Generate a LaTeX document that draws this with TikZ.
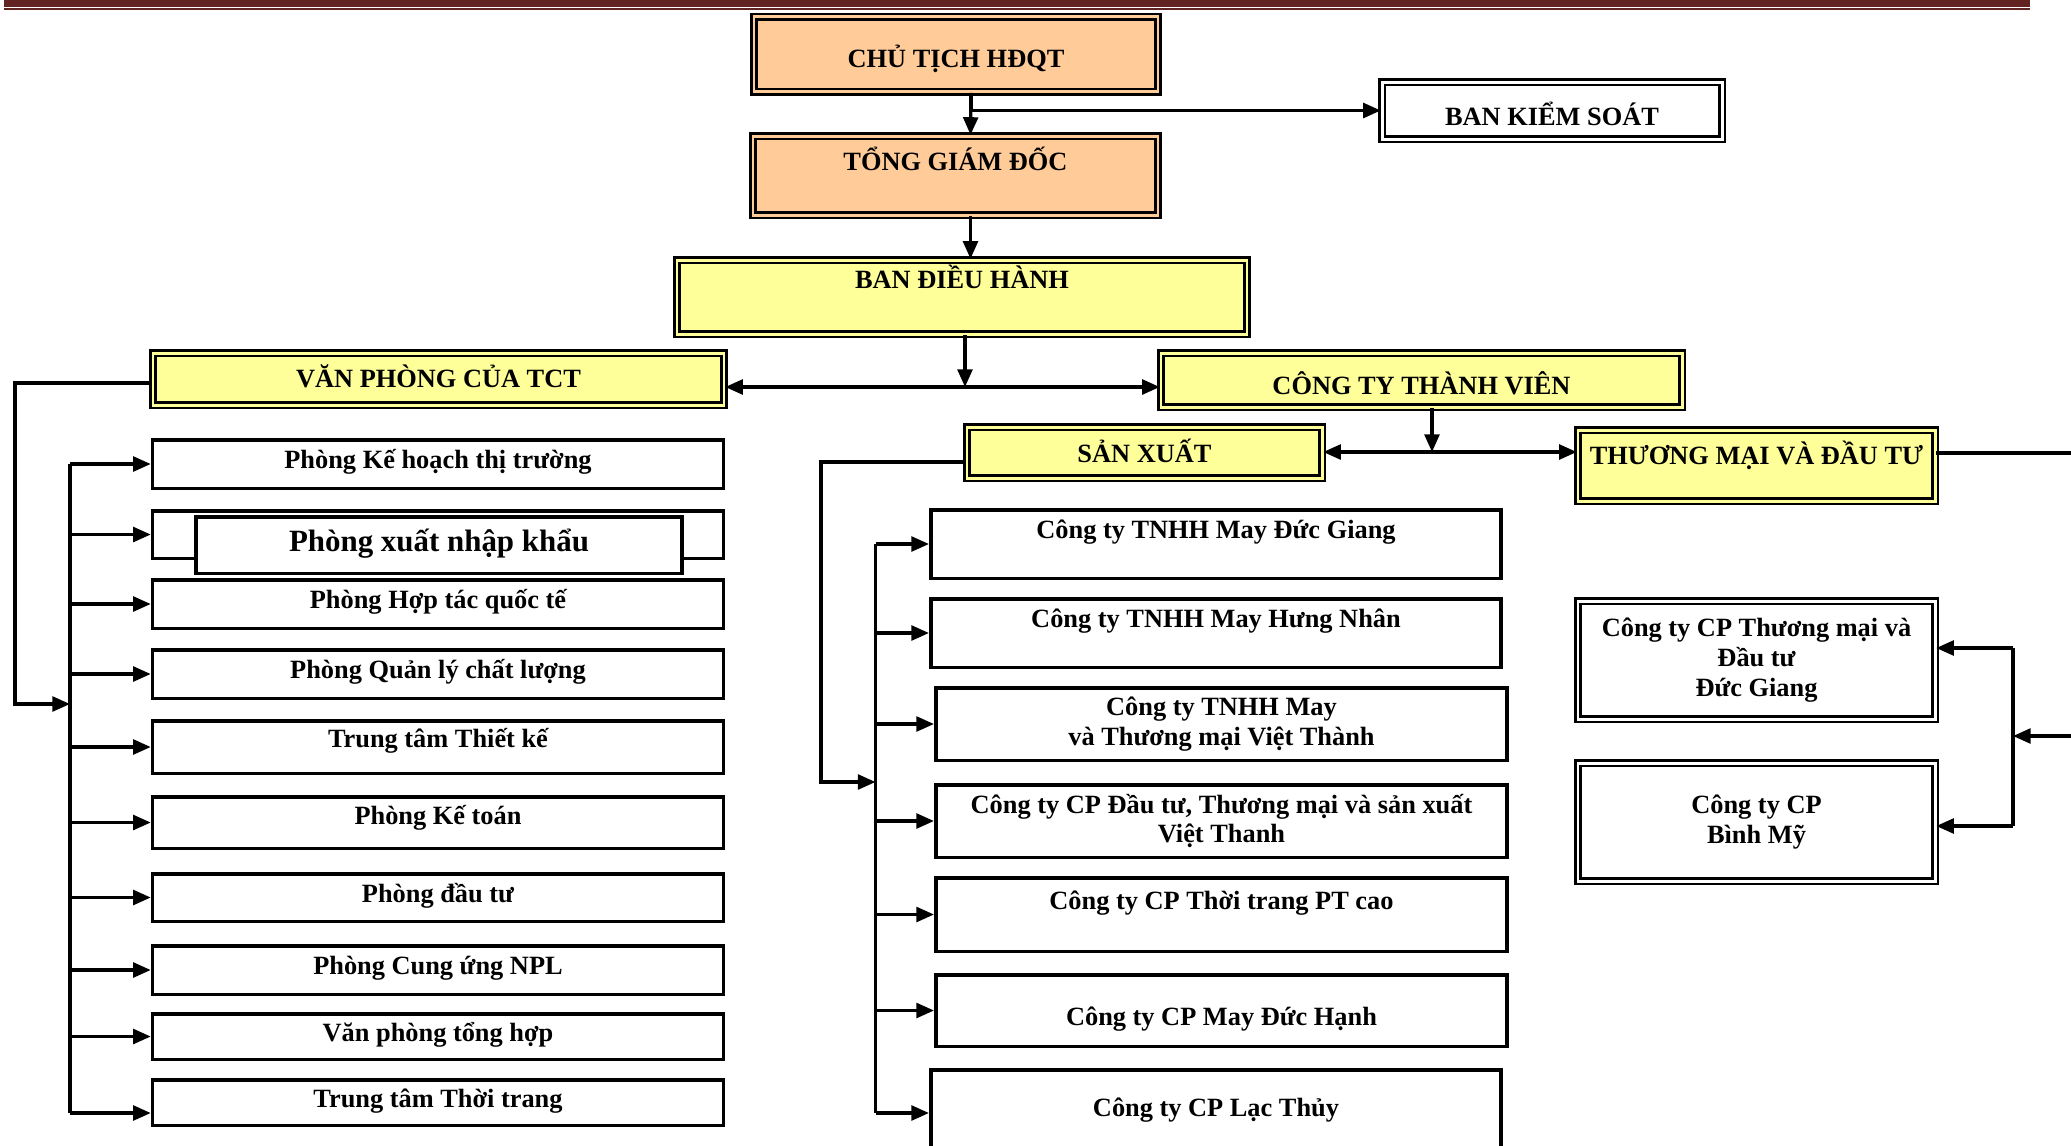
\documentclass[tikz,border=0pt]{standalone}
\usepackage{fontspec}
\setmainfont{Liberation Serif}
\usetikzlibrary{arrows.meta}

\definecolor{peach}{HTML}{FFCC99}
\definecolor{lemon}{HTML}{FFFF99}
\definecolor{topbar}{HTML}{622423}

\tikzset{
  wire/.style={line width=0.9pt},
  arr/.style={wire, -{Triangle[length=5pt,width=4.2pt]}},
  arrs/.style={wire, {Triangle[length=5pt,width=4.2pt]}-{Triangle[length=5pt,width=4.2pt]}},
  unitbox/.style={draw, line width=1pt, fill=white, align=center, inner sep=1pt,
    font=\bfseries\fontsize{7.5pt}{8.5pt}\selectfont},
  headbox/.style={unitbox, line width=0.7pt, double=#1, double distance=0.85pt, fill=#1},
  oneline/.style={text height=5.6pt, text depth=1.9pt},
}

\begin{document}
\begin{tikzpicture}
  \useasboundingbox (0,0) rectangle (20.71,-11.45);

  % top rule
  \fill[topbar] (0.045,0) rectangle (20.30,-0.067);
  \fill[topbar] (0.045,-0.08) rectangle (20.30,-0.10);

  % Board and management
  \node[headbox=peach, oneline, text height=9.3pt, minimum width=4.04cm, minimum height=0.75cm] (ct) at (9.56,-0.542) {CHỦ TỊCH HĐQT};
  \node[headbox=white, oneline, text height=10.7pt, minimum width=3.40cm, minimum height=0.57cm] (bks) at (15.52,-1.105) {BAN KIỂM SOÁT};
  \node[headbox=peach, oneline, text depth=8.7pt, minimum width=4.05cm, minimum height=0.79cm] (tgd) at (9.555,-1.755) {TỔNG GIÁM ĐỐC};
  \node[headbox=lemon, oneline, text depth=10.4pt, minimum width=5.70cm, minimum height=0.74cm] (bdh) at (9.62,-2.97) {BAN ĐIỀU HÀNH};

  % Office and member companies
  \node[headbox=lemon, oneline, text height=6.7pt, minimum width=5.71cm, minimum height=0.52cm] (vp) at (4.385,-3.79) {VĂN PHÒNG CỦA TCT};
  \node[headbox=lemon, oneline, text height=9.9pt, minimum width=5.21cm, minimum height=0.54cm] (cttv) at (14.215,-3.80) {CÔNG TY THÀNH VIÊN};
  \node[headbox=lemon, oneline, text height=7.3pt, minimum width=3.55cm, minimum height=0.51cm] (sx) at (11.445,-4.525) {SẢN XUẤT};
  \node[headbox=lemon, oneline, text depth=6.2pt, minimum width=3.57cm, minimum height=0.71cm] (tm) at (17.565,-4.655) {THƯƠNG MẠI VÀ ĐẦU TƯ};

  % Left column
  \foreach \i/\y/\h/\d/\t in {1/4.64/0.485/3pt/Phòng Kế hoạch thị trường,
      2/5.345/0.475/3pt/{}, 3/6.04/0.485/3pt/Phòng Hợp tác quốc tế,
      4/6.74/0.485/3pt/Phòng Quản lý chất lượng, 5/7.47/0.525/5.6pt/Trung tâm Thiết kế,
      6/8.225/0.515/4.5pt/Phòng Kế toán, 7/8.975/0.475/3pt/Phòng đầu tư,
      8/9.70/0.485/3pt/Phòng Cung ứng NPL, 9/10.365/0.455/3pt/Văn phòng tổng hợp,
      10/11.025/0.455/3pt/Trung tâm Thời trang}
    \node[unitbox, oneline, text depth=\d, minimum width=5.71cm, minimum height=\h cm] (l\i) at (4.38,-\y) {\t};
  \node[unitbox, oneline, font=\bfseries\fontsize{8.8pt}{10pt}\selectfont, minimum width=4.865cm, minimum height=0.565cm] (xnk) at (4.39,-5.45) {Phòng xuất nhập khẩu};

  % Production companies
  \node[unitbox, oneline, text depth=8.7pt, minimum width=5.705cm, minimum height=0.685cm] (c1) at (12.16,-5.44) {Công ty TNHH May Đức Giang};
  \node[unitbox, oneline, text depth=8.7pt, minimum width=5.705cm, minimum height=0.685cm] (c2) at (12.16,-6.33) {Công ty TNHH May Hưng Nhân};
  \node[unitbox, minimum width=5.715cm, minimum height=0.725cm] (c3) at (12.215,-7.24) {Công ty TNHH May\\và Thương mại Việt Thành};
  \node[unitbox, minimum width=5.715cm, minimum height=0.725cm] (c4) at (12.215,-8.21) {Công ty CP Đầu tư, Thương mại và sản xuất\\Việt Thanh};
  \node[unitbox, oneline, text depth=8.4pt, minimum width=5.715cm, minimum height=0.735cm] (c5) at (12.215,-9.145) {Công ty CP Thời trang PT cao};
  \node[unitbox, oneline, text height=10.7pt, minimum width=5.715cm, minimum height=0.715cm] (c6) at (12.215,-10.105) {Công ty CP May Đức Hạnh};
  \node[unitbox, oneline, text depth=3.9pt, minimum width=5.705cm, minimum height=0.865cm] (c7) at (12.16,-11.13) {Công ty CP Lạc Thủy};

  % Trade and investment companies
  \node[headbox=white, minimum width=3.57cm, minimum height=1.18cm] (r1) at (17.565,-6.60) {Công ty CP Thương mại và\\Đầu tư\\Đức Giang};
  \node[headbox=white, minimum width=3.57cm, minimum height=1.18cm] (r2) at (17.565,-8.22) {Công ty CP\\Bình Mỹ};

  % Top connectors
  \draw[arr] ([xshift=1.5mm]ct.south) -- ([xshift=1.5mm]tgd.north);
  \draw[arr] ([xshift=1.5mm]ct.south) |- (bks.west);
  \draw[arr] ([xshift=1.5mm]tgd.south) -- ([xshift=1.5mm]tgd.south |- bdh.north);
  \coordinate (j1) at (9.65,-3.87);
  \draw[arr] (bdh.south -| j1) -- (j1);
  \draw[arrs] (vp.east |- j1) -- (cttv.west |- j1);
  \coordinate (j2) at (14.32,-4.52);
  \draw[arr] (cttv.south -| j2) -- (j2);
  \draw[arrs] (sx.east |- j2) -- (tm.west |- j2);

  % Left bus
  \coordinate (lt) at (0.15,-3.83);
  \coordinate (lb) at (0.70,-7.04);
  \coordinate (le) at (0.70,-11.13);
  \draw[arr] (vp.west |- lt) -- (lt) |- (lb);
  \draw[wire] (lb |- l1.west) -- (le);
  \foreach \i in {1,...,9}
    \draw[arr] (lb |- l\i.west) -- (l\i.west);
  \draw[arr] (le) -- (l10.west |- le);

  % Middle bus
  \coordinate (mt) at (8.21,-4.62);
  \coordinate (mb) at (8.755,-7.82);
  \draw[arr] (sx.west |- mt) -- (mt) |- (mb);
  \draw[wire] (mb |- c1.west) -- (mb |- c7.west);
  \foreach \i in {1,...,7}
    \draw[arr] (mb |- c\i.west) -- (c\i.west);

  % Right bus
  \coordinate (rb) at (20.13,-7.36);
  \coordinate (ra) at (20.13,-6.48);
  \coordinate (rc) at (20.13,-8.26);
  \draw[arr] ([yshift=1.25mm]tm.east) -- ++(1.5,0) |- (rb);
  \draw[wire] (ra) -- (rc);
  \draw[arr] (ra) -- (r1.east |- ra);
  \draw[arr] (rc) -- (r2.east |- rc);
\end{tikzpicture}
\end{document}
